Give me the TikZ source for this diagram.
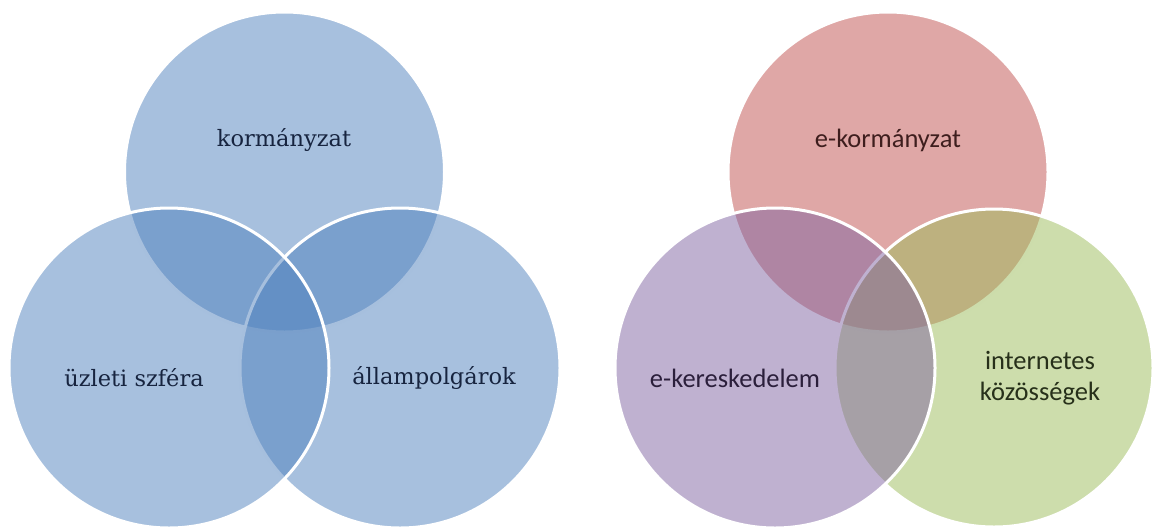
\documentclass[tikz,border=0pt]{standalone}
\usepackage{fontspec}
\newfontfamily\calib{Carlito}
\newfontfamily\cambr{DejaVu Serif}
\definecolor{accblue}{HTML}{4F81BD}
\definecolor{accred}{HTML}{C0504D}
\definecolor{accpurple}{HTML}{8064A2}
\definecolor{accgreen}{HTML}{9BBB59}
\definecolor{txblue}{HTML}{17243F}
\definecolor{txred}{HTML}{3E1E1E}
\definecolor{txpurple}{HTML}{2B1F3B}
\definecolor{txgreen}{HTML}{27301A}
\tikzset{
  venn/.style={fill=#1, fill opacity=0.5, draw=white, draw opacity=1, line width=3pt},
  lblL/.style={font=\cambr\fontsize{22.5}{27}\selectfont, text=txblue, inner sep=0pt},
  lblR/.style={font=\calib\fontsize{26.5}{31}\selectfont, inner sep=0pt, align=center}
}
\begin{document}
\begin{tikzpicture}[x=1pt,y=-1pt]
\useasboundingbox (0,0) rectangle (1156,531);
% left diagram (top, right, left)
\draw[venn=accblue] (284.5,172) circle[radius=160];
\draw[venn=accblue] (400,368) circle[radius=160];
\draw[venn=accblue] (169,368) circle[radius=160];
\node[lblL] (gov) at (284,140) {kormányzat};
\node[lblL] (biz) at (134,378) {üzleti szféra};
\node[lblL] (cit) at (434,378) {állampolgárok};
% right diagram (top, right, left)
\draw[venn=accred] (888,172) circle[radius=160];
\draw[venn=accgreen] (994,368) circle[radius=159];
\draw[venn=accpurple] (775,368) circle[radius=160];
\node[lblR, text=txred] (egov) at (888,140) {e-kormányzat};
\node[lblR, text=txpurple] (ecom) at (735,378) {e-kereskedelem};
\node[lblR, text=txgreen] (inet) at (1040,378) {internetes\\közösségek};
\end{tikzpicture}
\end{document}
